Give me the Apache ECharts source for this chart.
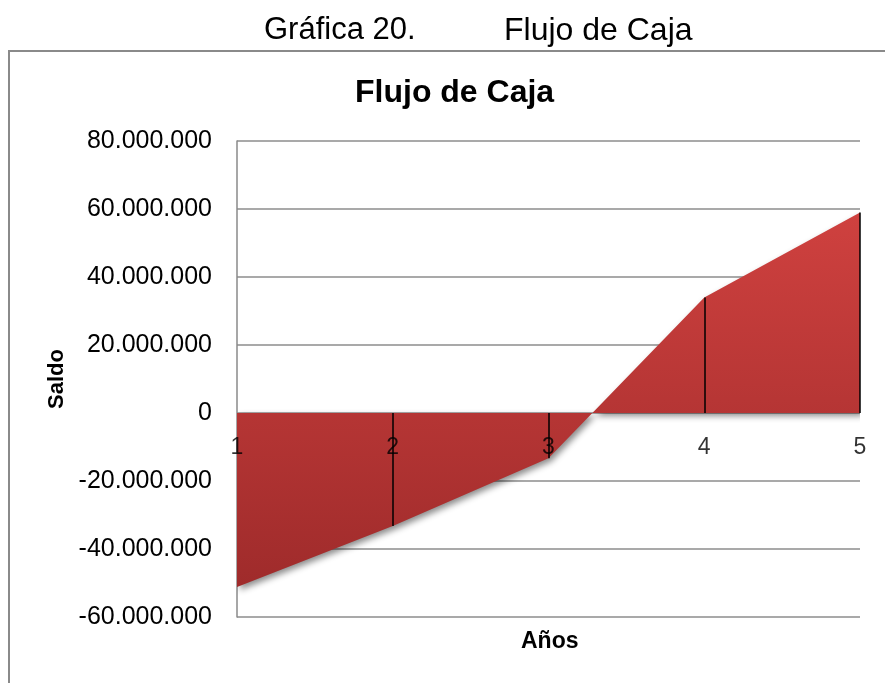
<!DOCTYPE html>
<html>
<head>
<meta charset="utf-8">
<script src="https://cdn.jsdelivr.net/npm/echarts@6/dist/echarts.min.js"></script>
<style>
  html, body { margin: 0; padding: 0; background: #fff; }
  #chart { width: 885px; height: 683px; }
</style>
</head>
<body>
<div id="chart"></div>
<script>
// Años del horizonte de evaluación
const years = ['1', '2', '3', '4', '5'];
// Saldo del flujo de caja por año
const saldo = [-51200000, -33200000, -13300000, 34000000, 59000000];
// Escala del eje de saldo
const yMin = -60000000;
const yMax = 80000000;
const yStep = 20000000;

const FONT = '"Liberation Sans", Arial, sans-serif';

function miles(v) {
  const s = Math.abs(v).toString().replace(/\B(?=(\d{3})+(?!\d))/g, '.');
  return (v < 0 ? '-' : '') + s;
}

const chart = echarts.init(document.getElementById('chart'), null, { renderer: 'canvas' });

chart.setOption({
  animation: false,
  backgroundColor: '#ffffff',
  grid: { left: 237, right: 25, top: 141, bottom: 66, containLabel: false },
  graphic: [
    {
      type: 'rect', silent: true, z: -10,
      shape: { x: 9, y: 51, width: 900, height: 660 },
      style: { fill: 'none', stroke: '#8a8a8a', lineWidth: 2 }
    },
    {
      type: 'text', left: 264, top: 15, silent: true,
      style: { text: 'Gráfica 20.', font: '31px ' + FONT, fill: '#000' }
    },
    {
      type: 'text', left: 504, top: 15, silent: true,
      style: { text: 'Flujo de Caja', font: '32px ' + FONT, fill: '#000' }
    },
    {
      type: 'text', left: 355, top: 77, silent: true,
      style: { text: 'Flujo de Caja', font: 'bold 32px ' + FONT, fill: '#000' }
    },
    {
      type: 'text', left: 521, top: 630, silent: true,
      style: { text: 'Años', font: 'bold 23px ' + FONT, fill: '#000' }
    }
  ],
  xAxis: {
    type: 'category',
    data: years,
    boundaryGap: false,
    axisLine: { show: false },
    axisTick: { show: false },
    axisLabel: { show: false },
    splitLine: { show: false }
  },
  yAxis: {
    type: 'value',
    min: yMin,
    max: yMax,
    interval: yStep,
    name: 'Saldo',
    nameLocation: 'middle',
    nameRotate: 90,
    nameGap: 167,
    nameTextStyle: { color: '#000', fontSize: 22, fontWeight: 'bold', fontFamily: FONT },
    axisLine: { show: true, lineStyle: { color: '#8a8a8a', width: 1.5 } },
    axisTick: { show: false },
    axisLabel: {
      color: '#000', fontSize: 25, fontFamily: FONT, margin: 25,
      padding: [4, 0, 0, 0], formatter: miles
    },
    splitLine: { show: true, lineStyle: { color: '#8c8c8c', width: 1.5 } }
  },
  series: [
    {
      type: 'line',
      data: saldo,
      symbol: 'none',
      z: 2,
      lineStyle: { width: 0, opacity: 0 },
      areaStyle: {
        origin: 'auto',
        color: new echarts.graphic.LinearGradient(0, 0, 0, 1, [
          { offset: 0, color: '#cf413f' },
          { offset: 1, color: '#9f2b2b' }
        ]),
        opacity: 1,
        shadowColor: 'rgba(0,0,0,0.45)',
        shadowBlur: 6,
        shadowOffsetX: 3,
        shadowOffsetY: 3
      },
      markLine: {
        silent: true,
        symbol: ['none', 'none'],
        label: { show: false },
        lineStyle: { color: '#000', width: 1.5, type: 'solid' },
        data: years.slice(1).map((y, k) => [
          { coord: [y, 0] },
          { coord: [y, saldo[k + 1]] }
        ])
      }
    },
    {
      // Rótulos de los años sobre la línea de saldo cero
      type: 'scatter',
      z: 5,
      silent: true,
      symbolSize: 0,
      data: years.map(y => [y, 0]),
      label: {
        show: true,
        position: 'bottom',
        distance: 23,
        color: '#000',
        fontSize: 23,
        fontFamily: FONT,
        formatter: p => p.value[0]
      }
    }
  ]
});
</script>
</body>
</html>
